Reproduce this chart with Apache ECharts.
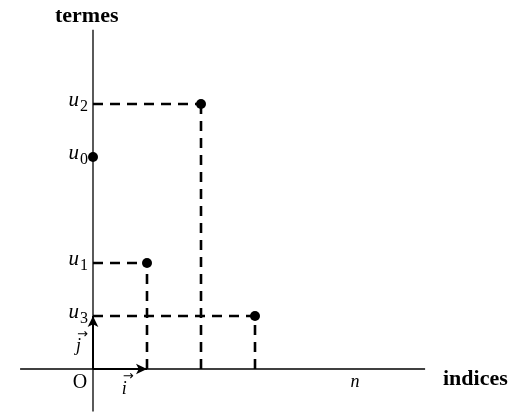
<!DOCTYPE html>
<html>
<head>
<meta charset="utf-8">
<script src="https://cdn.jsdelivr.net/npm/echarts@6/dist/echarts.min.js"></script>
<style>
  html, body { margin: 0; padding: 0; background: #fff; }
  #chart { width: 515px; height: 414px; }
</style>
</head>
<body>
<div id="chart"></div>
<script>
// Sequence terms u_n plotted against their index n
const indices = [0, 1, 2, 3];
const terms = [4, 2, 5, 1];
const termNames = ['0', '1', '2', '3'];

// Extent of the drawn coordinate axes (in axis units)
const xAxisSpan = [-1.35, 6.15];
const yAxisSpan = [-0.8, 6.4];

const SERIF = '"Liberation Serif", "DejaVu Serif", serif';
const chart = echarts.init(document.getElementById('chart'), null, { renderer: 'canvas' });

const points = indices.map((n, k) => [n, terms[k]]);

// Dashed guides from each point back to both axes (each drawn starting at its axis)
const guides = [];
indices.forEach((n, k) => {
  const v = terms[k];
  if (n !== 0) {
    guides.push([[0, v], [n, v]]);
    guides.push([[n, 0], [n, v]]);
  }
});

const series = [];

// Coordinate axes
series.push({
  type: 'line', data: [[xAxisSpan[0], 0], [xAxisSpan[1], 0]],
  symbol: 'none', silent: true, z: 1,
  lineStyle: { color: '#000', width: 1.5, opacity: 1 }
});
series.push({
  type: 'line', data: [[0, yAxisSpan[0]], [0, yAxisSpan[1]]],
  symbol: 'none', silent: true, z: 1,
  lineStyle: { color: '#000', width: 1.3, opacity: 1 }
});

guides.forEach(seg => {
  series.push({
    type: 'line', data: seg, symbol: 'none', silent: true, z: 2,
    lineStyle: { color: '#000', width: 2.6, type: [10, 7], opacity: 1 }
  });
});

// Unit vectors i and j
series.push({
  type: 'line', data: [], silent: true, z: 3,
  markLine: {
    silent: true, symbol: ['none', 'arrow'], symbolSize: [8, 11],
    label: { show: false },
    lineStyle: { color: '#000', width: 2, type: 'solid', opacity: 1 },
    data: [
      [{ coord: [0, 0] }, { coord: [1, 0] }],
      [{ coord: [0, 0] }, { coord: [0, 1] }]
    ]
  }
});

// The points (n, u_n)
series.push({
  type: 'scatter', data: points, symbol: 'circle', symbolSize: 10, z: 5,
  itemStyle: { color: '#000', opacity: 1 }
});

// u_n labels on the vertical axis
series.push({
  type: 'scatter', symbolSize: 0, z: 6, silent: true,
  itemStyle: { color: '#000', opacity: 1 },
  data: indices.map((n, k) => ({ value: [0, terms[k]], name: termNames[k] })),
  label: {
    show: true, position: 'left', distance: 5, color: '#000', textBorderWidth: 0,
    formatter: p => '{u|u}{s|' + p.name + '}',
    rich: {
      u: { fontFamily: SERIF, fontStyle: 'italic', fontSize: 21, color: '#000', padding: [0, 0, 8, 0] },
      s: { fontFamily: SERIF, fontSize: 16, color: '#000', padding: [6, 0, 0, 1] }
    }
  }
});

// Origin, vector names and n
series.push({
  type: 'scatter', symbolSize: 0, z: 6, silent: true,
  itemStyle: { color: '#000', opacity: 1 },
  data: [
    { value: [-0.24, -0.26], name: 'O' },
    { value: [0.58, -0.3], name: 'i' },
    { value: [-0.27, 0.5], name: 'j' },
    { value: [4.85, -0.25], name: 'n' }
  ],
  label: {
    show: true, position: 'inside', color: '#000', textBorderWidth: 0,
    formatter: p => {
      if (p.name === 'O') return '{o|O}';
      if (p.name === 'n') return '{n|n}';
      return '{a|→}\n{v|' + p.name + '}';
    },
    rich: {
      o: { fontFamily: SERIF, fontSize: 20, color: '#000' },
      n: { fontFamily: SERIF, fontStyle: 'italic', fontSize: 18, color: '#000' },
      a: { fontFamily: '"DejaVu Sans", sans-serif', fontSize: 13, color: '#000', lineHeight: 8, padding: [0, 0, 0, 8] },
      v: { fontFamily: SERIF, fontStyle: 'italic', fontSize: 18, color: '#000', lineHeight: 16 }
    }
  }
});

chart.setOption({
  animation: false,
  backgroundColor: '#fff',
  grid: { left: 0, right: 0, top: 0, bottom: 0 },
  xAxis: {
    type: 'value', min: -93 / 54, max: (515 - 93) / 54,
    show: false
  },
  yAxis: {
    type: 'value', min: -45 / 53, max: 369 / 53,
    show: false
  },
  graphic: [
    { type: 'text', left: 55, top: 5, style: { text: 'termes', font: 'bold 22px ' + SERIF, fill: '#000' } },
    { type: 'text', left: 443, top: 368, style: { text: 'indices', font: 'bold 22px ' + SERIF, fill: '#000' } }
  ],
  series: series
});
</script>
</body>
</html>
